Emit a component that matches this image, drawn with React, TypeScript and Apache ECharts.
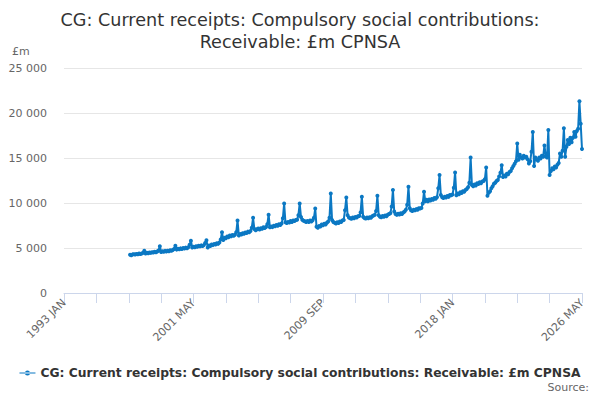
import React, { useEffect, useRef } from "react";
import * as echarts from "echarts";

const monthNames = ["JAN", "FEB", "MAR", "APR", "MAY", "JUN", "JUL", "AUG", "SEP", "OCT", "NOV", "DEC"];

// monthly categories 1993 JAN .. 2026 MAY
const categories: string[] = [];
for (let y = 1993; y <= 2026; y++) {
  for (let m = 0; m < 12; m++) {
    if (y === 2026 && m > 4) break;
    categories.push(`${y} ${monthNames[m]}`);
  }
}

const firstMonth = "1997 APR";

// £m, monthly, from 1997 APR
const receipts = [
  // 1997 (APR-DEC)
  4250, 4200, 4290, 4310, 4270, 4330, 4300, 4380, 4340,
  // 1998
  4400, 4460, 4700, 4380, 4470, 4420, 4510, 4460, 4530, 4490, 4580, 4520,
  // 1999
  4600, 4720, 5200, 4560, 4640, 4590, 4680, 4620, 4700, 4650, 4760, 4700,
  // 2000
  4780, 4900, 5250, 4820, 4910, 4860, 4960, 4900, 4990, 4940, 5040, 4980,
  // 2001
  5080, 5350, 5800, 5060, 5150, 5090, 5200, 5140, 5260, 5180, 5290, 5230,
  // 2002
  5320, 5550, 5850, 5050, 5280, 5220, 5380, 5320, 5450, 5380, 5520, 5460,
  // 2003
  5620, 5950, 6750, 5900, 6150, 6080, 6280, 6200, 6380, 6290, 6450, 6360,
  // 2004
  6480, 6750, 8050, 6400, 6560, 6500, 6650, 6580, 6720, 6660, 6820, 6750,
  // 2005
  6880, 7250, 8350, 7100, 6980, 7080, 7160, 7060, 7200, 7140, 7300, 7220,
  // 2006
  7340, 7650, 8700, 7300, 7380, 7320, 7480, 7420, 7560, 7480, 7640, 7560,
  // 2007
  7720, 8300, 9950, 7850, 7780, 7900, 7840, 8000, 7900, 8060, 8000, 8120,
  // 2008
  8150, 8650, 9950, 8450, 8150, 8020, 7980, 7900, 8000, 7880, 8050, 7950,
  // 2009
  8080, 8350, 9400, 7350, 7250, 7450, 7380, 7600, 7520, 7700, 7620, 7800,
  // 2010
  7950, 8350, 11050, 8100, 7880, 7800, 7720, 7850, 7780, 7940, 7880, 8050,
  // 2011
  8120, 9200, 10600, 8650, 8380, 8300, 8250, 8380, 8300, 8450, 8380, 8520,
  // 2012
  8550, 8950, 10700, 8480, 8320, 8280, 8380, 8300, 8420, 8360, 8520, 8620,
  // 2013
  8680, 9100, 10800, 8650, 8480, 8420, 8550, 8480, 8600, 8520, 8700, 8780,
  // 2014
  8850, 9600, 11450, 9050, 8780, 8680, 8800, 8720, 8850, 8780, 8950, 9050,
  // 2015
  9250, 9800, 11800, 9420, 9180, 9100, 9250, 9180, 9320, 9250, 9420, 9380,
  // 2016
  9450, 9950, 11250, 10200, 10350, 10180, 10400, 10280, 10450, 10350, 10550, 10480,
  // 2017
  10650, 11650, 13100, 10900, 10650, 10550, 10700, 10600, 10780, 10680, 10900, 10850,
  // 2018
  10950, 11700, 13400, 10850, 11050, 10980, 11200, 11100, 11300, 11250, 11450, 11550,
  // 2019
  11750, 12250, 15050, 12000, 11850, 12050, 11950, 12200, 12100, 12300, 12200, 12400,
  // 2020
  12450, 12650, 13950, 10800, 11150, 11300, 11650, 11850, 12150, 12250, 12450, 12550,
  // 2021
  12950, 13350, 14200, 12900, 13050, 12950, 13250, 13200, 13450, 13550, 13850, 14100,
  // 2022
  14350, 14650, 16600, 14800, 15350, 15050, 14950, 15250, 15050, 15150, 14850, 14400,
  // 2023
  14650, 15700, 17900, 14100, 15050, 14850, 14700, 15050, 14950, 15250, 15150, 16400,
  // 2024
  15200, 15050, 18100, 13100, 13550, 13850, 13750, 14050, 13950, 14250, 14450, 15500,
  // 2025
  15150, 15800, 18300, 15150, 16250, 17000, 16550, 17250, 16750, 17250, 17900, 17350,
  // 2026 (JAN-MAY)
  18000, 18250, 21300, 18800, 16000,
];

const yTicks = [0, 5000, 10000, 15000, 20000, 25000];

const seriesName = "CG: Current receipts: Compulsory social contributions: Receivable: £m CPNSA";
const lineColor = "#0b78c3";
const font = "'DejaVu Sans', Verdana, sans-serif";

const fmt = (v: number) => String(v).replace(/\B(?=(\d{3})+(?!\d))/g, " ");

const App: React.FC = () => {
  const chartRef = useRef<HTMLDivElement | null>(null);

  useEffect(() => {
    if (!chartRef.current) return;
    const chart = echarts.init(chartRef.current, undefined, { renderer: "svg" });
    const start = categories.indexOf(firstMonth);
    const data = receipts.map((v, i) => [categories[start + i], v]);

    chart.setOption({
      animation: false,
      textStyle: { fontFamily: font },
      title: {
        text: "CG: Current receipts: Compulsory social contributions:\nReceivable: £m CPNSA",
        left: "center",
        top: 4,
        textStyle: { fontSize: 17.6, fontWeight: "normal", color: "#333333", lineHeight: 22, fontFamily: font },
      },
      grid: { left: 64, right: 18, top: 68, bottom: 107 },
      legend: {
        bottom: 16,
        left: "center",
        itemWidth: 16,
        itemHeight: 8,
        icon: "path://M0,3.5L16,3.5L16,4.5L0,4.5Z M5.5,4a2.5,2.5 0 1,0 5,0a2.5,2.5 0 1,0 -5,0Z",
        textStyle: { fontSize: 12.3, fontWeight: "bold", color: "#333333", fontFamily: font },
        data: [seriesName],
      },
      graphic: [
        {
          type: "text",
          left: 12,
          top: 46,
          style: { text: "£m", fontSize: 11, fill: "#666666", fontFamily: font },
        },
        {
          type: "text",
          right: 11,
          top: 382,
          style: { text: "Source:", fontSize: 11, fill: "#666666", fontFamily: font },
        },
      ],
      xAxis: {
        type: "category",
        data: categories,
        boundaryGap: false,
        axisLine: { lineStyle: { color: "#ccd6eb" } },
        axisTick: { interval: 24, length: 10, lineStyle: { color: "#ccd6eb" } },
        axisLabel: { interval: 99, rotate: 45, fontSize: 11, color: "#666666", margin: 8, fontFamily: font },
        splitLine: { show: false },
      },
      yAxis: {
        type: "value",
        min: yTicks[0],
        max: yTicks[yTicks.length - 1],
        interval: 5000,
        axisLine: { show: false },
        axisTick: { show: false },
        axisLabel: { fontSize: 11, color: "#666666", margin: 17, formatter: (v: number) => fmt(v), fontFamily: font },
        splitLine: { lineStyle: { color: "#e6e6e6" } },
      },
      series: [
        {
          name: seriesName,
          type: "line",
          data,
          symbol: "circle",
          symbolSize: 4,
          showSymbol: true,
          showAllSymbol: true,
          itemStyle: { color: lineColor },
          lineStyle: { color: lineColor, width: 2 },
        },
      ],
    });

    return () => {
      chart.dispose();
    };
  }, []);

  return <div ref={chartRef} style={{ width: 600, height: 400, margin: -8 }} />;
};

export default App;
